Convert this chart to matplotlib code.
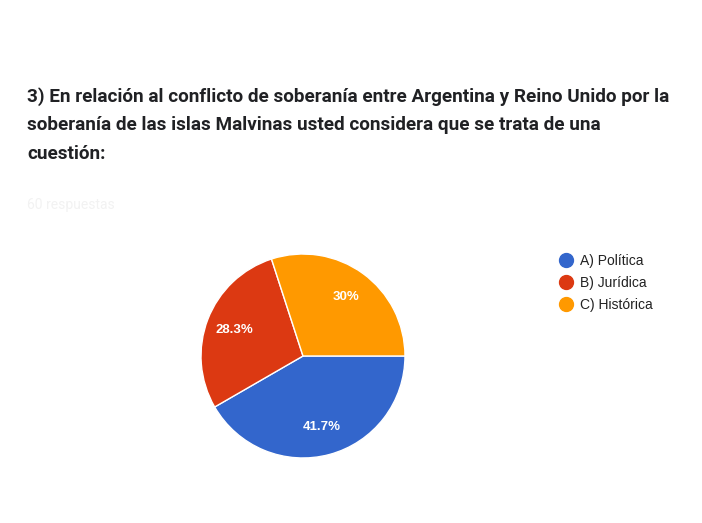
import matplotlib.pyplot as plt
from matplotlib.lines import Line2D

# datos
categorias = ['A) Política', 'B) Jurídica', 'C) Histórica']
respuestas = [25, 17, 18]
colores = ['#3366cc', '#dc3912', '#ff9900']
titulo = ('3) En relación al conflicto de soberanía entre Argentina y Reino Unido por la\n'
          'soberanía de las islas Malvinas usted considera que se trata de una\n'
          'cuestión:')
subtitulo = '60 respuestas'

W, H = 702, 523
fig = plt.figure(figsize=(W / 100, H / 100), dpi=100)
fig.patch.set_facecolor('white')

# titulo
fig.text(27 / W, 1 - 87 / H, titulo, fontsize=13.6, fontfamily='Roboto',
         fontweight='bold', color='#202124', va='top', ha='left', linespacing=1.74)
fig.text(27 / W, 1 - 205 / H, subtitulo, fontsize=10, fontfamily='Roboto',
         color='#f2f2f2', va='center', ha='left')

# pastel
r = 103
cx, cy = 303, 356
ax = fig.add_axes([(cx - r) / W, (H - cy - r) / H, 2 * r / W, 2 * r / H])
wedges, textos, pcts = ax.pie(respuestas, colors=colores, startangle=0, counterclock=False,
                              autopct='%1.1f%%', pctdistance=0.72,
                              wedgeprops=dict(edgecolor='white', linewidth=1))
for t in pcts:
    t.set_color('white')
    t.set_fontsize(9.5)
    t.set_fontfamily('Liberation Sans')
    t.set_fontweight('bold')
    if t.get_text() == '30.0%':
        t.set_text('30%')
ax.set_xlim(-1.01, 1.01)
ax.set_ylim(-1.01, 1.01)
ax.set_aspect('equal')

# leyenda
handles = [Line2D([], [], marker='o', linestyle='', markersize=10,
                  markerfacecolor=c, markeredgecolor=c) for c in colores]
leg = fig.legend(handles, categorias, loc='upper left',
                 bbox_to_anchor=(547 / W, 1 - 241 / H), frameon=False,
                 handlelength=1.0, handletextpad=0.45, labelspacing=0.6,
                 prop={'family': 'Liberation Sans', 'size': 10})
for t in leg.get_texts():
    t.set_color('#222222')

fig.savefig('out.png', dpi=100, facecolor='white')
